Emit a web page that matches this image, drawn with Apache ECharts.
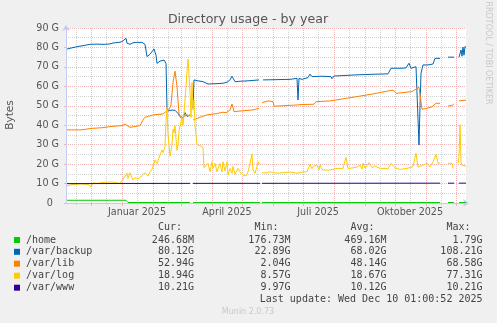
<!DOCTYPE html>
<html><head><meta charset="utf-8">
<script src="https://cdn.jsdelivr.net/npm/echarts@6/dist/echarts.min.js"></script>
<style>html,body{margin:0;padding:0;background:#f0f0f0}#c{width:497px;height:323px}</style>
</head><body><div id="c"></div>
<script>
// x values are days relative to 1 Jan 2025
const monthStarts = [-31, 0, 31, 59, 90, 120, 151, 181, 212, 243, 273, 304, 334];
const minorDays = [-46, -16, 15, 46, 74, 105, 135, 166, 196, 227, 258, 288, 319];
const labelDays = [15, 105, 196, 288];
const labelNames = ['Januar 2025', 'April 2025', 'Juli 2025', 'Oktober 2025'];
const yMinor = [5, 15, 25, 35, 45, 55, 65, 75, 85];

const homeData = [[-55,1.4],[0,1.4],[4,1.4],[5,0.4],[6,0.25],[68,0.25],[69,'-'],[71,0.24],[138,0.24],[139,'-'],[140,0.24],[318,0.24],[319,'-'],[326,0.24],[332,0.24],[333,'-'],[337,0.24],[344,0.24]];
const backupData = [[-55,79.2],[-50,79.8],[-45,80.4],[-38,81],[-32,81.6],[-25,81.7],[-18,81.6],[-12,81.8],[-9,82.3],[-7,82.6],[-3,82.6],[0,83.0],[2,83.5],[4,84.7],[5,82.2],[8,81.6],[11,82.4],[14,82.6],[20,82.6],[23,81.6],[25,75.3],[28,76.5],[32,79.2],[34,76],[35,71.8],[38,73.0],[42,73.5],[44,71.8],[45,48.7],[46,47.3],[50,47.8],[53,47.7],[56,46.1],[58,44.5],[61,43.7],[63,46.5],[65,44.5],[68,45.3],[69,'-'],[71,48.7],[72,63.3],[75,62.9],[81,62.4],[86,61.2],[95,61.4],[101,61.6],[105,62.1],[108,63.3],[110,65.2],[113,62.4],[118,62.6],[125,62.8],[130,63],[137,63.3],[139,'-'],[141,63.3],[150,63.4],[160,63.5],[168,63.6],[175,64.1],[176,53],[177,64.1],[180,63.6],[186,64.5],[188,66.3],[190,65],[200,65.2],[209,65],[210,63.9],[212,65.3],[220,65.5],[230,65.8],[240,66],[250,66.2],[266,66.4],[269,69.3],[280,69.3],[284,69.5],[287,71.9],[289,69.3],[294,70.1],[296,70],[297,29.8],[298,50],[299,66.7],[301,71],[306,71],[311,71.5],[313,74.4],[318,74.4],[319,'-'],[326,75],[332,75],[333,'-'],[337,75],[338,75],[339,78.7],[340,75.5],[341,80.2],[342,76],[343,80.5],[344,80.1]];
const libData = [[-55,37.6],[-41,37.6],[-39,37.9],[-30,38.4],[-20,38.7],[-10,39.4],[0,39.8],[3,40.5],[4,39.6],[8,38.9],[10,39.6],[18,39.8],[20,40.5],[21,42.7],[23,44.1],[31,45.3],[41,45.8],[44,47],[47,48],[49,50.4],[51,62],[53,67.8],[55,60],[57,46.1],[59,43.6],[62,44.5],[65,45.3],[68,44.8],[69,'-'],[71,42.7],[78,44.1],[85,45.3],[95,46],[101,46.7],[104,46.4],[108,47.8],[110,50.9],[112,47],[118,47.3],[130,47.8],[137,48.7],[139,'-'],[140,51.6],[146,52.5],[151,52.1],[152,49.8],[160,50],[175,50.4],[176,50],[178,50.6],[192,50.8],[194,52.1],[208,52.5],[230,54.3],[250,56],[271,58.1],[273,59],[274,56.4],[290,57.3],[297,59.5],[298,60.3],[300,48.2],[305,48.7],[310,49.5],[314,51.3],[318,51.3],[319,'-'],[326,49.9],[330,50.1],[332,51],[333,'-'],[337,52.5],[344,52.9]];
const logData = [[-55,8.7],[-52,9.3],[-42,9.8],[-34,9.6],[-31,8.4],[-29,10.4],[-25,10.1],[-19,10.6],[-10,10.8],[-2,10.1],[0,9.8],[1,12.2],[3,13],[5,15.3],[6,12.7],[8,15.6],[11,11.8],[13,13],[15,13.5],[16,12.5],[18,12.2],[20,14],[23,15.6],[26,13.9],[28,16],[30,17.3],[33,22.1],[35,20.4],[38,24.7],[40,27.3],[41,25.9],[43,29],[44,42],[45,49],[46,35],[47,30],[48,24],[50,30],[51,38],[52,36],[53,40],[54,33],[55,27],[56,30],[57,37],[59,42],[60,44],[61,40],[62,46],[63,53],[64,60],[65,68],[66,74],[67,73],[68,58],[69,44],[70,62],[71,48],[72,53],[73,40],[74,35],[75,30],[78,29.5],[81,28.6],[82,18.2],[84,18.8],[86,20.4],[88,16.1],[90,21.2],[91,17.8],[93,20.4],[95,16],[96,15.3],[98,20.4],[100,16],[101,21.2],[103,16.5],[105,21.2],[106,14.4],[108,17.8],[110,15.3],[111,18.8],[113,14.8],[116,17.8],[118,15.9],[120,15],[121,14.4],[124,13.9],[126,16],[128,20.4],[130,25.3],[131,17],[133,15.3],[135,18.8],[136,21.2],[138,19.6],[139,'-'],[140,15.5],[141,16.1],[145,15.5],[148,16.1],[150,15.3],[155,15.3],[161,15.6],[168,15.9],[175,15.3],[181,16],[185,16.1],[188,20],[190,17.6],[191,18.8],[193,17.8],[195,19.5],[197,17],[198,19.6],[200,17.3],[203,16.9],[208,17],[215,17.8],[221,17.8],[224,23.5],[226,17.8],[230,18],[235,18.5],[238,19.5],[240,17.5],[241,20.4],[243,18],[247,20.7],[250,18.2],[253,19],[258,17.8],[263,17.8],[266,17.5],[269,20.4],[273,18],[278,17.3],[285,17.8],[291,18.7],[294,25.6],[296,18.5],[301,19.5],[305,20.4],[308,18.5],[311,21.2],[314,25],[316,20.5],[318,20.4],[319,'-'],[326,20.4],[330,20.4],[331,17.8],[333,'-'],[336,20.5],[337,23.8],[338,40.3],[339,21],[340,19.5],[342,19.8],[344,18.9]];
const wwwData = [[-55,9.97],[-20,10.0],[0,10.05],[40,10.08],[68,10.1],[69,'-'],[71,10.1],[138,10.12],[139,'-'],[140,10.12],[250,10.17],[318,10.2],[319,'-'],[326,10.2],[332,10.2],[333,'-'],[337,10.21],[344,10.21]];

const legendNames = ['/home', '/var/backup', '/var/lib', '/var/log', '/var/www'];
const curVals = ['246.68M', '80.12G', '52.94G', '18.94G', '10.21G'];
const minVals = ['176.73M', '22.89G', '2.04G', '8.57G', '9.97G'];
const avgVals = ['469.16M', '68.02G', '48.14G', '18.67G', '10.12G'];
const maxVals = ['1.79G', '108.21G', '68.58G', '77.31G', '10.21G'];
const headers = ['Cur:', 'Min:', 'Avg:', 'Max:'];
const titleText = 'Directory usage - by year';
const lastUpdate = 'Last update: Wed Dec 10 01:00:52 2025';

const seriesData = [homeData, backupData, libData, logData, wwwData];
const colors = ['#00cc00', '#0066b3', '#ff8000', '#ffcc00', '#330099'];

const axisCol = '#c4cbf0';
const majorCol = '#efb4b4';
const minorCol = '#d2d2d2';
const txtCol = '#555';
const font = 'DejaVu Sans';
const mono = 'DejaVu Sans Mono';

const graphics = [];
graphics.push({type:'text', x:248, y:20, style:{text:titleText, fill:txtCol, fontSize:12.6, fontFamily:font, align:'center', verticalAlign:'middle', textAlign:'center', textVerticalAlign:'middle'}});
graphics.push({type:'text', x:10, y:115, rotation:Math.PI/2, style:{text:'Bytes', fill:txtCol, fontSize:10.5, fontFamily:font, align:'center', verticalAlign:'middle', textAlign:'center', textVerticalAlign:'middle'}});
graphics.push({type:'text', x:488.5, y:53, rotation:-Math.PI/2, style:{text:'RRDTOOL / TOBI OETIKER', fill:'#c8c8c8', fontSize:8, fontFamily:font, align:'center', verticalAlign:'middle', textAlign:'center', textVerticalAlign:'middle'}});
const colRight = [194, 290.5, 386.5, 482.5];
const rowY = [240, 251.8, 263.7, 275.7, 287.7];
headers.forEach((h, j) => {
  graphics.push({type:'text', x:colRight[j] - 12, y:227.5, style:{text:h, fill:'#444', fontSize:10, fontFamily:mono, align:'right', verticalAlign:'middle', textAlign:'right', textVerticalAlign:'middle'}});
});
legendNames.forEach((n, i) => {
  graphics.push({type:'rect', shape:{x:14, y:rowY[i]-3, width:6, height:6}, style:{fill:colors[i]}});
  graphics.push({type:'text', x:26, y:rowY[i], style:{text:n, fill:'#444', fontSize:10, fontFamily:mono, align:'left', verticalAlign:'middle', textAlign:'left', textVerticalAlign:'middle'}});
  [curVals, minVals, avgVals, maxVals].forEach((arr, j) => {
    graphics.push({type:'text', x:colRight[j], y:rowY[i], style:{text:arr[i], fill:'#444', fontSize:10, fontFamily:mono, align:'right', verticalAlign:'middle', textAlign:'right', textVerticalAlign:'middle'}});
  });
});
graphics.push({type:'text', x:482.5, y:299.7, style:{text:lastUpdate, fill:'#444', fontSize:10, fontFamily:mono, align:'right', verticalAlign:'middle', textAlign:'right', textVerticalAlign:'middle'}});
graphics.push({type:'text', x:248, y:311.7, style:{text:'Munin 2.0.73', fill:'#c8c8c8', fontSize:8, fontFamily:font, align:'center', verticalAlign:'middle', textAlign:'center', textVerticalAlign:'middle'}});

const chart = echarts.init(document.getElementById('c'), null, {renderer:'canvas'});
chart.setOption({
  animation: false,
  backgroundColor: '#f0f0f0',
  textStyle: {fontFamily: font},
  grid: {left:66, top:28, width:400, height:175, show:true, backgroundColor:'#ffffff', borderWidth:0},
  xAxis: [
    {type:'value', min:-56, max:344, position:'bottom',
     axisLine:{show:true, onZero:false, lineStyle:{color:axisCol, width:1}, symbol:['none','arrow'], symbolSize:[6,6], symbolOffset:[0,3]},
     axisTick:{show:true, customValues:monthStarts, length:3, lineStyle:{color:majorCol}},
     axisLabel:{show:true, customValues:labelDays, formatter:v => labelNames[labelDays.indexOf(v)], color:txtCol, fontSize:9.6, fontFamily:font, margin:4},
     splitLine:{show:true, lineStyle:{color:majorCol, width:1, type:[1,1]}}},
    {type:'value', min:-56, max:344, position:'bottom',
     axisLine:{show:false}, axisLabel:{show:false},
     axisTick:{show:true, customValues:minorDays, length:2, lineStyle:{color:minorCol}},
     splitLine:{show:true, lineStyle:{color:minorCol, width:1, type:[1,1]}}}
  ],
  yAxis: [
    {type:'value', min:0, max:90, interval:10, position:'left',
     axisLine:{show:true, onZero:false, lineStyle:{color:axisCol, width:1}, symbol:['none','arrow'], symbolSize:[6,6], symbolOffset:[0,3]},
     axisTick:{show:true, length:2, lineStyle:{color:majorCol}},
     axisLabel:{color:txtCol, fontSize:9.6, fontFamily:font, margin:7, formatter:v => v === 0 ? '0\u00a0\u00a0' : v + ' G'},
     splitLine:{show:true, lineStyle:{color:majorCol, width:1, type:[1,1]}}},
    {type:'value', min:0, max:90, position:'left',
     axisLine:{show:false}, axisLabel:{show:false},
     axisTick:{show:true, customValues:yMinor, length:2, lineStyle:{color:minorCol}},
     splitLine:{show:true, lineStyle:{color:minorCol, width:1, type:[1,1]}}}
  ],
  series: seriesData.map((d, i) => ({
    name: legendNames[i], type:'line', xAxisIndex:0, yAxisIndex:0, data:d,
    showSymbol:false, symbol:'none', connectNulls:false, z: 2 + i,
    lineStyle:{width:1, color:colors[i]}, itemStyle:{color:colors[i]}
  })),
  graphic: graphics
});
</script></body></html>
